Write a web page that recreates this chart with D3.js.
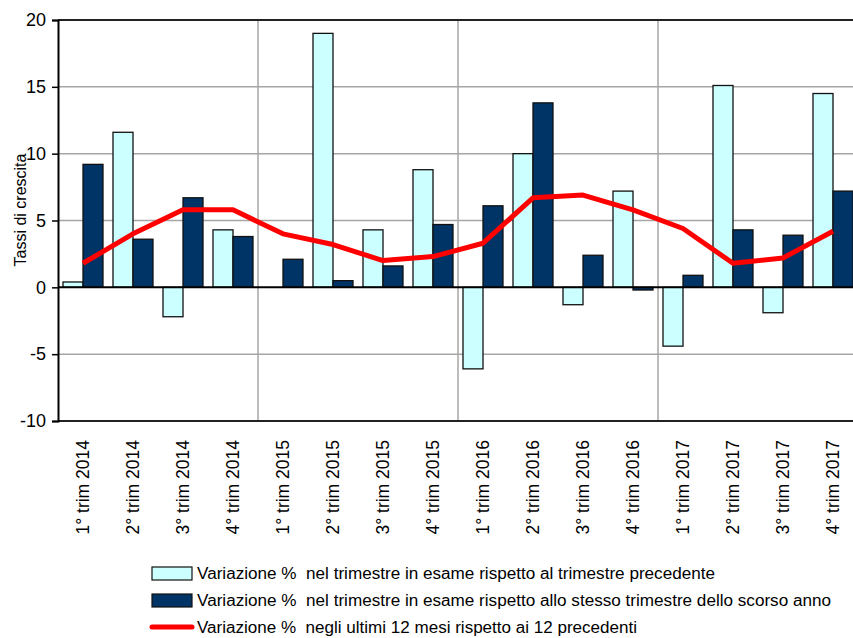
<!DOCTYPE html>
<html><head><meta charset="utf-8">
<script src="https://cdn.jsdelivr.net/npm/d3@7"></script>
<style>
html,body{margin:0;padding:0;background:#fff;overflow:hidden}
svg{display:block;font-family:"Liberation Sans",Arial,sans-serif}
</style></head>
<body>
<svg id="c" width="853" height="638"></svg>
<script>
const categories = ["1° trim 2014","2° trim 2014","3° trim 2014","4° trim 2014",
  "1° trim 2015","2° trim 2015","3° trim 2015","4° trim 2015",
  "1° trim 2016","2° trim 2016","3° trim 2016","4° trim 2016",
  "1° trim 2017","2° trim 2017","3° trim 2017","4° trim 2017"];
const quarterOnQuarter = [0.4, 11.6, -2.2, 4.3, 0.0, 19.0, 4.3, 8.8, -6.1, 10.0, -1.3, 7.2, -4.4, 15.1, -1.9, 14.5];
const yearOnYear = [9.2, 3.6, 6.7, 3.8, 2.1, 0.5, 1.6, 4.7, 6.1, 13.8, 2.4, -0.2, 0.9, 4.3, 3.9, 7.2];
const last12Months = [1.8, 4.0, 5.8, 5.8, 4.0, 3.2, 2.0, 2.3, 3.3, 6.7, 6.9, 5.8, 4.4, 1.8, 2.2, 4.2];
const yTicks = [-10, -5, 0, 5, 10, 15, 20];
const yTickLabels = ["-10", "-5", "0", "5", "10", "15", "20"];
const yearBoundaries = ["1° trim 2015", "1° trim 2016", "1° trim 2017"];
const seriesNames = ["qq", "yy"];
const legendLabels = [
  "Variazione %  nel trimestre in esame rispetto al trimestre precedente",
  "Variazione %  nel trimestre in esame rispetto allo stesso trimestre dello scorso anno",
  "Variazione %  negli ultimi 12 mesi rispetto ai 12 precedenti"
];
const yTitle = "Tassi di crescita";

const svg = d3.select("#c");
const L = 58, T = 20, W = 800, H = 401;
const x = d3.scaleBand().domain(categories).range([L, L + W]).padding(0);
const xs = d3.scaleBand().domain(seriesNames).range([5, x.bandwidth() - 5]).padding(0);
const y = d3.scaleLinear().domain([-10, 20]).range([T + H, T]);

const light = "#ccffff", dark = "#003366", red = "#ff0000";

// gridlines
const g = svg.append("g");
g.selectAll("line.h").data(yTicks.filter(d => d !== -10 && d !== 20 && d !== 0)).enter().append("line")
  .attr("x1", L).attr("x2", L + W).attr("y1", d => y(d)).attr("y2", d => y(d))
  .attr("stroke", "#a6a6a6").attr("stroke-width", 1.5);
g.selectAll("line.v").data(yearBoundaries).enter().append("line")
  .attr("x1", d => x(d)).attr("x2", d => x(d)).attr("y1", T).attr("y2", T + H)
  .attr("stroke", "#a6a6a6").attr("stroke-width", 1.5);

// bars
const data = categories.map((c, i) => ({c, qq: quarterOnQuarter[i], yy: yearOnYear[i]}));
const bars = svg.append("g");
[["qq", light], ["yy", dark]].forEach(([k, col]) => {
  bars.selectAll("rect." + k).data(data.filter(d => d[k] !== 0)).enter().append("rect")
    .attr("x", d => x(d.c) + xs(k))
    .attr("width", xs.bandwidth())
    .attr("y", d => y(Math.max(0, d[k])))
    .attr("height", d => Math.abs(y(d[k]) - y(0)))
    .attr("fill", col).attr("stroke", "#111").attr("stroke-width", 1.3);
});

// frame lines
svg.append("line").attr("x1", L).attr("x2", L + W).attr("y1", T).attr("y2", T).attr("stroke", "#222").attr("stroke-width", 2);
svg.append("line").attr("x1", L).attr("x2", L + W).attr("y1", T + H).attr("y2", T + H).attr("stroke", "#222").attr("stroke-width", 2);
svg.append("line").attr("x1", L).attr("x2", L + W).attr("y1", y(0)).attr("y2", y(0)).attr("stroke", "#000").attr("stroke-width", 2);

// y axis
const yAxis = d3.axisLeft(y).tickValues(yTicks).tickSize(6).tickPadding(7)
  .tickFormat((d, i) => yTickLabels[i]);
const ya = svg.append("g").attr("transform", `translate(${L},0)`).call(yAxis);
ya.select(".domain").attr("stroke", "#000").attr("stroke-width", 2);
ya.selectAll(".tick line").attr("stroke", "#000").attr("stroke-width", 1.5);
ya.selectAll(".tick text").attr("font-size", 18).attr("fill", "#000")
  .attr("font-family", "Liberation Sans, Arial, sans-serif").attr("dx", 1);

// x labels
const xa = svg.append("g");
xa.selectAll("text").data(categories).enter().append("text")
  .attr("transform", d => `translate(${x(d) + x.bandwidth() / 2 + 6},${T + H + 19}) rotate(-90)`)
  .attr("text-anchor", "end").attr("font-size", 17.5).attr("fill", "#000").text(d => d);

// y title
svg.append("text").attr("transform", `translate(26,210) rotate(-90)`)
  .attr("text-anchor", "middle").attr("font-size", 16).attr("fill", "#000").text(yTitle);

// line
const line = d3.line().x((d, i) => x(categories[i]) + x.bandwidth() / 2).y(d => y(d));
svg.append("path").datum(last12Months).attr("d", line)
  .attr("fill", "none").attr("stroke", red).attr("stroke-width", 5).attr("stroke-linejoin", "round");

// legend
const lg = svg.append("g");
const rows = [573, 600, 627];
const widths = [518, 634, 440];
lg.append("rect").attr("x", 152).attr("y", rows[0] - 6).attr("width", 40).attr("height", 13).attr("fill", light).attr("stroke", "#111").attr("stroke-width", 1.2);
lg.append("rect").attr("x", 152).attr("y", rows[1] - 6).attr("width", 40).attr("height", 13).attr("fill", dark).attr("stroke", "#111").attr("stroke-width", 1.2);
lg.append("line").attr("x1", 152).attr("x2", 192).attr("y1", rows[2]).attr("y2", rows[2]).attr("stroke", red).attr("stroke-width", 5).attr("stroke-linecap", "round");
lg.selectAll("text").data(legendLabels).enter().append("text")
  .attr("x", 197).attr("y", (d, i) => rows[i] + 6)
  .attr("font-size", 16).attr("fill", "#000").style("white-space", "pre")
  .attr("textLength", (d, i) => widths[i]).attr("lengthAdjust", "spacingAndGlyphs")
  .text(d => d);
</script>
</body></html>
